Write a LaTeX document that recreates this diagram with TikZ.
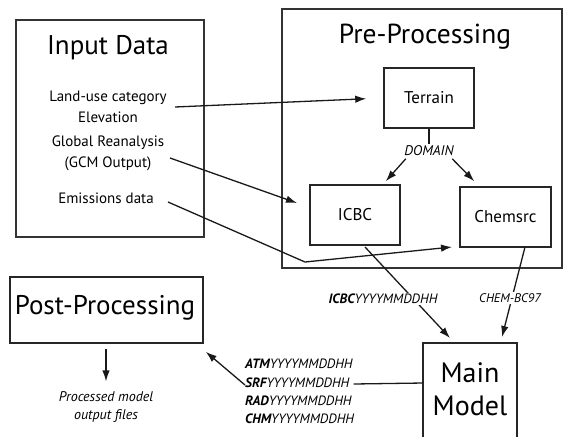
\documentclass[tikz,border=0pt]{standalone}
\usepackage{fontspec}
\setmainfont{PT Sans}
\usetikzlibrary{arrows.meta,calc}
\begin{document}
\begin{tikzpicture}[x=1pt,y=-1pt,
  frame/.style={draw=black!80, line width=2pt, rectangle, inner sep=0pt},
  box/.style={draw=black!85, line width=1.6pt, rectangle, inner sep=0pt,
    font=\fontsize{17}{18}\selectfont},
  conn/.style={draw=black!90, line width=1.3pt},
  arr/.style={conn, -{Latex[length=11pt,width=7.5pt]}},
  bigtitle/.style={font=\fontsize{27}{30}\selectfont, inner sep=0pt},
  item/.style={font=\fontsize{15}{20.5}\selectfont, align=center, inner sep=0pt},
  tag/.style={font=\fontsize{13.5}{14}\selectfont\itshape, fill=white, inner sep=1.5pt},
  outfile/.style={font=\fontsize{13.5}{14}\selectfont\itshape, anchor=west, inner sep=0pt},
]
\useasboundingbox (0,0) rectangle (564,437);

% ---- Input data ----
\node[frame, minimum width=188pt, minimum height=217pt] (inbox) at (110,128.5) {};
\node[bigtitle] (intitle) at (108,48) {Input Data};
\node[item] (landuse) at (108,107) {Land-use category\\Elevation};
\node[item] (gcm) at (108,153.5) {Global Reanalysis\\(GCM Output)};
\node[item] (emis) at (106,198) {Emissions data};

% ---- Pre-processing ----
\node[frame, minimum width=280pt, minimum height=259pt] (prebox) at (422,138.5) {};
\node[bigtitle, font=\fontsize{27.5}{30}\selectfont] (pretitle) at (425,37) {Pre-Processing};
\node[box, minimum width=90pt, minimum height=60pt] (terrain) at (429,98) {Terrain};
\node[box, minimum width=90pt, minimum height=60pt] (icbc) at (355,215) {ICBC};
\node[box, minimum width=91pt, minimum height=60pt] (chemsrc) at (505.5,217) {Chemsrc};
\node[tag, font=\fontsize{14}{14}\selectfont\itshape] (domain) at (429,151) {DOMAIN};

% ---- Post-processing ----
\node[box, minimum width=193pt, minimum height=66pt] (post) at (106.5,310) {};
\node[font=\fontsize{27}{32}\selectfont, inner sep=0pt] (posttitle) at (105,308) {Post-Processing};
\node[font=\fontsize{14}{18}\selectfont\itshape, align=center, inner sep=0pt] (processed) at (106,407) {Processed model\\output files};

% ---- Main model (box runs off the bottom edge) ----
\node[font=\fontsize{28}{33}\selectfont, align=center, inner sep=0pt] (main) at (470,389) {Main\\Model};
\coordinate (mainnw) at (423,343);
\coordinate (mainne) at (517,343);
\draw[draw=black!85, line width=1.6pt] (423,437) -- (mainnw) -- (mainne) -- (517,437);

% ---- Output files ----
\node[outfile] (atm) at (245,364) {\textbf{ATM}YYYYMMDDHH};
\node[outfile] (srf) at (245,383) {\textbf{SRF}YYYYMMDDHH};
\node[outfile] (rad) at (245,401) {\textbf{RAD}YYYYMMDDHH};
\node[outfile] (chm) at (245,419) {\textbf{CHM}YYYYMMDDHH};

% ---- Connector end points ----
\coordinate (luse) at (175,107);
\coordinate (gcmstart) at (170,158);
\coordinate (gcmtip) at (297,203);
\coordinate (emisstart) at (168,202);
\coordinate (emisbend) at (305,262);
\coordinate (emistip) at (452,247);
\coordinate (icbcout) at (365,247);
\coordinate (icbctip) at (450,338);
\coordinate (chemout) at (525,247);
\coordinate (chemtip) at (502,337);

% input data to pre-processing
\draw[arr, shorten >=17pt] (luse) -- (terrain.west);
\draw[arr] (gcmstart) -- (gcmtip);
\draw[arr] (emisstart) -- (emisbend) -- (emistip);

% terrain output split into ICBC and Chemsrc
\draw[conn] (terrain.south) -- (domain.north);
\draw[arr] ($(domain.south west)+(3,1)$) -- ($(icbc.north east)+(-15,-3)$);
\draw[arr] ($(domain.south east)+(-3,1)$) -- ($(chemsrc.north west)+(15,-5)$);

% pre-processing files into the main model
\draw[arr] (icbcout) -- (icbctip);
\draw[arr] (chemout) -- (chemtip);
\node[tag] (icbcfile) at (383,299) {\textbf{ICBC}YYYYMMDDHH};
\node[tag, font=\fontsize{12.5}{14}\selectfont\itshape] (chemfile) at (510,298) {CHEM-BC97};

% model output to post-processing
\draw[conn] (srf.east) ++(4,1) -- (mainnw |- srf.east);
\draw[arr] ($(srf.west)+(0,2)$) -- ($(post.south east)+(2,8)$);
\draw[arr, shorten <=5pt] (post.south -| processed) -- ($(processed.north)+(0,-10)$);
\end{tikzpicture}
\end{document}
